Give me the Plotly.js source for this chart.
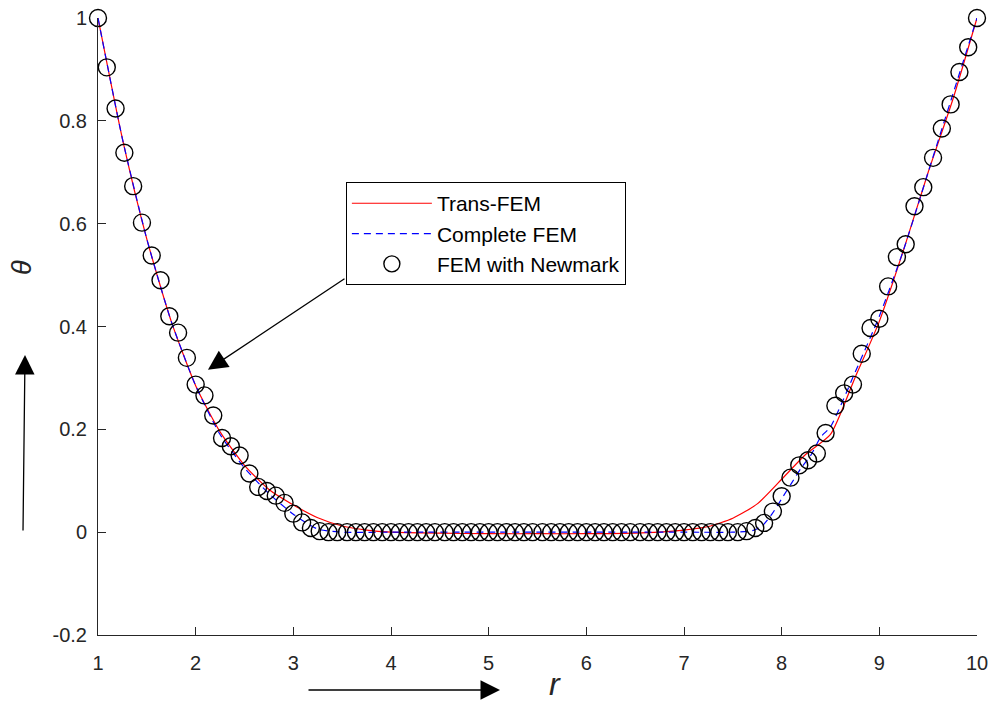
<!DOCTYPE html>
<html>
<head>
<meta charset="utf-8">
<script src="https://cdn.plot.ly/plotly-3.0.1.min.js"></script>
<style>html,body{margin:0;padding:0;background:#fff}#chart{width:995px;height:702px}</style>
</head>
<body>
<div id="chart"></div>
<script>
// ---- data ----
const newmarkX = [1.00,1.09,1.18,1.27,1.36,1.45,1.55,1.64,1.73,1.82,
  1.91,2.00,2.09,2.18,2.27,2.36,2.45,2.55,2.64,2.73,
  2.82,2.91,3.00,3.09,3.18,3.27,3.36,3.45,3.55,3.64,
  3.73,3.82,3.91,4.00,4.09,4.18,4.27,4.36,4.45,4.55,
  4.64,4.73,4.82,4.91,5.00,5.09,5.18,5.27,5.36,5.45,
  5.55,5.64,5.73,5.82,5.91,6.00,6.09,6.18,6.27,6.36,
  6.45,6.55,6.64,6.73,6.82,6.91,7.00,7.09,7.18,7.27,
  7.36,7.45,7.55,7.64,7.73,7.82,7.91,8.00,8.09,8.18,
  8.27,8.36,8.45,8.55,8.64,8.73,8.82,8.91,9.00,9.09,
  9.18,9.27,9.36,9.45,9.55,9.64,9.73,9.82,9.91,10.00];
const newmarkY = [1.000,0.904,0.824,0.738,0.673,0.602,0.538,0.490,0.420,0.388,
  0.339,0.287,0.266,0.227,0.183,0.167,0.149,0.114,0.088,0.080,
  0.071,0.057,0.036,0.019,0.008,0.002,0.000,0.000,0.000,0.000,
  0.000,0.000,0.000,0.000,0.000,0.000,0.000,0.000,0.000,0.000,
  0.000,0.000,0.000,0.000,0.000,0.000,0.000,0.000,0.000,0.000,
  0.000,0.000,0.000,0.000,0.000,0.000,0.000,0.000,0.000,0.000,
  0.000,0.000,0.000,0.000,0.000,0.000,0.000,0.000,0.000,0.000,
  0.000,0.000,0.000,0.002,0.008,0.018,0.040,0.070,0.106,0.130,
  0.140,0.153,0.193,0.246,0.270,0.287,0.347,0.397,0.415,0.478,
  0.535,0.560,0.634,0.671,0.728,0.785,0.832,0.895,0.943,1.000];

const transX = [1.0,1.25,1.5,1.75,2.0,2.25,2.5,2.75,3.0,3.25,3.5,3.75,4.0,4.5,5.0,5.5,6.0,6.5,6.75,7.0,7.25,7.5,7.75,8.0,8.25,8.5,8.75,9.0,9.25,9.5,9.75,10.0];
const transY = [1.0,0.765,0.57,0.41,0.285,0.195,0.13,0.083,0.053,0.028,0.012,0.004,0.0,-0.002,-0.003,-0.003,-0.003,-0.002,0.0,0.004,0.011,0.027,0.055,0.103,0.152,0.19,0.30,0.41,0.55,0.70,0.84,1.0];

const completeX = [1.0,1.25,1.5,1.75,2.0,2.25,2.5,2.75,3.0,3.25,3.5,4.0,5.0,6.0,7.0,7.5,7.7,7.8,7.9,8.0,8.1,8.2,8.3,8.4,8.5,8.75,9.0,9.25,9.5,9.75,10.0];
const completeY = [1.0,0.765,0.57,0.41,0.285,0.19,0.125,0.075,0.035,0.006,0.0,0.0,0.0,0.0,0.0,0.0,0.003,0.012,0.035,0.065,0.095,0.125,0.150,0.185,0.205,0.31,0.42,0.55,0.70,0.85,1.0];

const seriesNames = ["Trans-FEM","Complete FEM","FEM with Newmark"];
const xTicks = [1,2,3,4,5,6,7,8,9,10];
const yTicks = [-0.2,0,0.2,0.4,0.6,0.8,1];
const yTickText = ["-0.2","0","0.2","0.4","0.6","0.8","1"];

const FONT = "Liberation Sans, Arial, Helvetica, sans-serif";
const traces = [
  {x: transX, y: transY, name: seriesNames[0], mode: "lines", type: "scatter", cliponaxis: false,
   line: {color: "#ff0000", width: 1.2, shape: "spline", smoothing: 0.6}},
  {x: completeX, y: completeY, name: seriesNames[1], mode: "lines", type: "scatter", cliponaxis: false,
   line: {color: "#0000ff", width: 1.2, dash: "7px,5px", shape: "spline", smoothing: 0.6}},
  {x: newmarkX, y: newmarkY, name: seriesNames[2], mode: "markers", type: "scatter", cliponaxis: false,
   marker: {symbol: "circle-open", size: 17, color: "#000000", line: {width: 1.4, color: "#000000"}}}
];

const layout = {
  width: 995, height: 702,
  margin: {l: 98, r: 18, t: 18, b: 67, pad: 0},
  paper_bgcolor: "#ffffff", plot_bgcolor: "#ffffff",
  font: {family: FONT, color: "#262626", size: 20},
  showlegend: true,
  legend: {x: 0.282, y: 0.734, xanchor: "left", yanchor: "top",
    bgcolor: "#ffffff", bordercolor: "#000000", borderwidth: 1,
    font: {family: FONT, size: 21, color: "#000000"}, itemwidth: 80, tracegroupgap: 0},
  xaxis: {range: [1, 10], tickvals: xTicks, ticktext: xTicks.map(String),
    ticks: "inside", ticklen: 8, tickcolor: "#262626", showline: true, linecolor: "#262626", linewidth: 1,
    showgrid: false, zeroline: false, mirror: false, tickfont: {size: 20, color: "#262626"}, ticklabelstandoff: 10},
  yaxis: {range: [-0.2, 1], tickvals: yTicks, ticktext: yTickText,
    ticks: "inside", ticklen: 8, tickcolor: "#262626", showline: true, linecolor: "#262626", linewidth: 1,
    showgrid: false, zeroline: false, mirror: false, tickfont: {size: 20, color: "#262626"}, ticklabelstandoff: 6},
  annotations: [
    {xref: "paper", yref: "paper", x: (555-98)/879, y: (635-684)/617, xanchor: "center", yanchor: "middle",
     text: "<i>r</i>", showarrow: false, font: {family: FONT, size: 32, color: "#262626"}},
    {xref: "paper", yref: "paper", x: (22-98)/879, y: (635-268)/617, xanchor: "center", yanchor: "middle",
     text: "<i>θ</i>", showarrow: false, textangle: -90, font: {family: FONT, size: 27, color: "#262626"}},
    {xref: "paper", yref: "paper", x: (25-98)/879, y: (635-355)/617, ax: -2, ay: 177, text: "", showarrow: true,
     arrowhead: 2, arrowsize: 3, arrowwidth: 1.3, arrowcolor: "#000000"},
    {xref: "paper", yref: "paper", x: (500-98)/879, y: (635-690)/617, ax: -193, ay: 0, text: "", showarrow: true,
     arrowhead: 2, arrowsize: 3, arrowwidth: 1.3, arrowcolor: "#000000"},
    {xref: "x", yref: "y", x: 2.126, y: 0.316, ax: 138, ay: -92, text: "", showarrow: true,
     arrowhead: 2, arrowsize: 3, arrowwidth: 1.3, arrowcolor: "#000000"}
  ]
};

Plotly.newPlot("chart", traces, layout, {displayModeBar: false, staticPlot: true});
</script>
</body>
</html>
